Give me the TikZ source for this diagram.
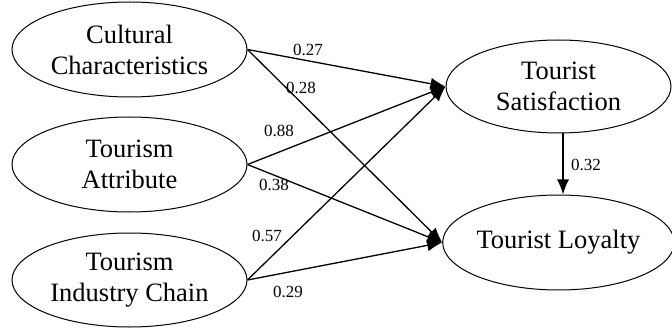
\documentclass[tikz,border=0pt]{standalone}
\usepackage{fontspec}
\setmainfont{Liberation Serif}
\usetikzlibrary{shapes.geometric,arrows.meta}
\tikzset{
  ell/.style={ellipse, draw, line width=1pt, inner sep=0pt, align=center,
    font=\fontsize{26.5}{31}\selectfont},
  path/.style={line width=1.3pt, -{Latex[length=15pt,width=12pt]}},
  coef/.style={font=\fontsize{17}{19}\selectfont, inner sep=0pt}
}
\begin{document}
\begin{tikzpicture}[x=1pt,y=1pt]
\useasboundingbox (0,0) rectangle (672,327);
\node[ell, minimum width=235pt, minimum height=95pt] (cc) at (129.5,277.5) {Cultural\\Characteristics};
\node[ell, minimum width=235pt, minimum height=95pt] (ta) at (129.5,162.5) {Tourism\\Attribute};
\node[ell, minimum width=235pt, minimum height=94pt] (ic) at (129.5,47) {Tourism\\Industry Chain};
\node[ell, minimum width=225pt, minimum height=93pt] (ts) at (558.5,240.5) {Tourist\\Satisfaction};
\node[ell, minimum width=225pt, minimum height=95pt] (tl) at (558.5,84.5) {Tourist Loyalty};
\draw[path] (cc.east) -- (ts.west);
\draw[path] (cc.east) -- (tl.west);
\draw[path] (ta.east) -- (ts.west);
\draw[path] (ta.east) -- (tl.west);
\draw[path] (ic.east) -- (ts.west);
\draw[path] (ic.east) -- (tl.west);
\draw[path] ([xshift=4.5pt]ts.south) -- ([xshift=4.5pt]tl.north);
\node[coef] (l1) at (308,277) {0.27};
\node[coef] (l2) at (301,239) {0.28};
\node[coef] (l3) at (279,196) {0.88};
\node[coef] (l4) at (274,142) {0.38};
\node[coef] (l5) at (267,91) {0.57};
\node[coef] (l6) at (288,35) {0.29};
\node[coef] (l7) at (586,162) {0.32};
\end{tikzpicture}
\end{document}
